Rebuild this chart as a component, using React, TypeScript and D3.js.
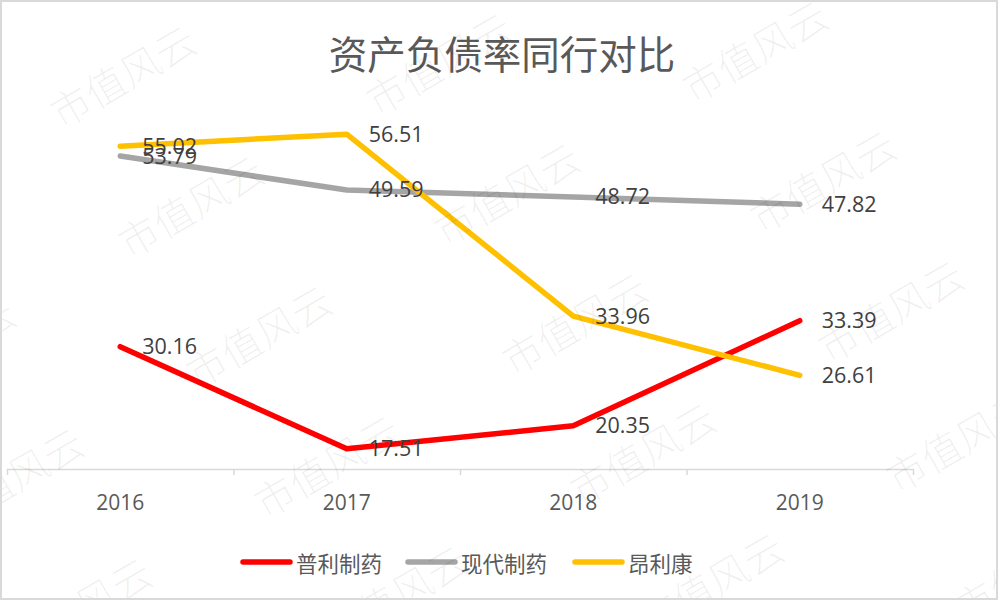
import React from 'react';
import * as d3 from 'd3';

const years = ['2016', '2017', '2018', '2019'];
const puli = [30.16, 17.51, 20.35, 33.39];
const xiandai = [53.79, 49.59, 48.72, 47.82];
const anglikang = [55.02, 56.51, 33.96, 26.61];
const seriesNames = ['普利制药', '现代制药', '昂利康'];
const seriesColors = ['#FF0000', '#A5A5A5', '#FFC000'];
const title = '资产负债率同行对比';

const W = 1003, H = 603;
const plot = { left: 7, right: 913, top: 106, bottom: 469 };

export default function App() {
  const series = [puli, xiandai, anglikang];

  const x = d3.scaleBand().domain(years).range([plot.left, plot.right]).padding(0);
  const cx = (d: string) => (x(d) as number) + x.bandwidth() / 2;
  const y = d3.scaleLinear().domain([15, 60]).range([plot.bottom, plot.top]);

  const line = d3.line<number>()
    .x((_, i) => cx(years[i]))
    .y(d => y(d));

  // tick marks sit on the category boundaries
  const tickXs = years.map(d => x(d) as number).concat([plot.right]);

  // watermark grid "市值风云"
  const marks: [number, number][] = [];
  for (let r = -1; r <= 5; r++) {
    for (let c = -1; c <= 3; c++) {
      const mx = 122 + c * 316 + r * 68;
      const my = 75 - c * 12.5 + r * 130;
      if (mx > -60 && mx < W + 60 && my > -40 && my < H + 40) marks.push([mx, my]);
    }
  }

  const labelFont = '"Open Sans", "Liberation Sans", sans-serif';
  const cjkFont = '"Noto Sans CJK SC", sans-serif';

  // legend layout
  const legendX = [241, 406, 573];

  return (
    <div style={{ position: 'fixed', left: 0, top: 0 }}>
      <svg width={W} height={H} style={{ display: 'block', background: '#fff' }}>
        <defs>
          <clipPath id="frame"><rect x={2} y={2} width={994} height={596} /></clipPath>
        </defs>
        <rect x={1} y={1} width={996} height={598} fill="#fff" stroke="#d9d9d9" strokeWidth={2} />

        <text x={502} y={52} textAnchor="middle" dominantBaseline="central"
          fontFamily={cjkFont} fontSize={38.5} fill="#595959">{title}</text>

        {/* category axis */}
        <line x1={plot.left} x2={plot.right} y1={plot.bottom + 0.5} y2={plot.bottom + 0.5} stroke="#d9d9d9" strokeWidth={1.5} />
        {tickXs.map((t, i) => (
          <line key={i} x1={t + 0.5} x2={t + 0.5} y1={plot.bottom} y2={plot.bottom + 6} stroke="#d9d9d9" strokeWidth={1.5} />
        ))}
        {years.map(d => (
          <text key={d} x={cx(d)} y={510} textAnchor="middle" fontFamily={labelFont} fontSize={21} fill="#595959">{d}</text>
        ))}

        {series.map((s, i) => (
          <path key={i} d={line(s) || ''} fill="none" stroke={seriesColors[i]} strokeWidth={5.5}
            strokeLinecap="round" strokeLinejoin="round" />
        ))}

        {series.map((s, i) => s.map((v, j) => (
          <text key={i + '-' + j} x={cx(years[j]) + 22} y={y(v) + 7.5} fontFamily={labelFont} fontSize={21.5} fill="#404040">
            {v.toFixed(2)}
          </text>
        )))}

        {seriesNames.map((n, i) => (
          <g key={n}>
            <line x1={legendX[i] + 2} x2={legendX[i] + 49} y1={562} y2={562} stroke={seriesColors[i]} strokeWidth={5.5} strokeLinecap="round" />
            <text x={legendX[i] + 55} y={562} dominantBaseline="central" fontFamily={cjkFont} fontSize={21.5} fill="#595959">{n}</text>
          </g>
        ))}

        <g clipPath="url(#frame)" fill="#000" fillOpacity={0.06} fontFamily={cjkFont} fontSize={40} fontWeight={300}>
          {marks.map(([mx, my], i) => (
            <text key={i} x={mx} y={my} textAnchor="middle" dominantBaseline="central"
              transform={`rotate(-30, ${mx}, ${my})`}>市值风云</text>
          ))}
        </g>
      </svg>
    </div>
  );
}
